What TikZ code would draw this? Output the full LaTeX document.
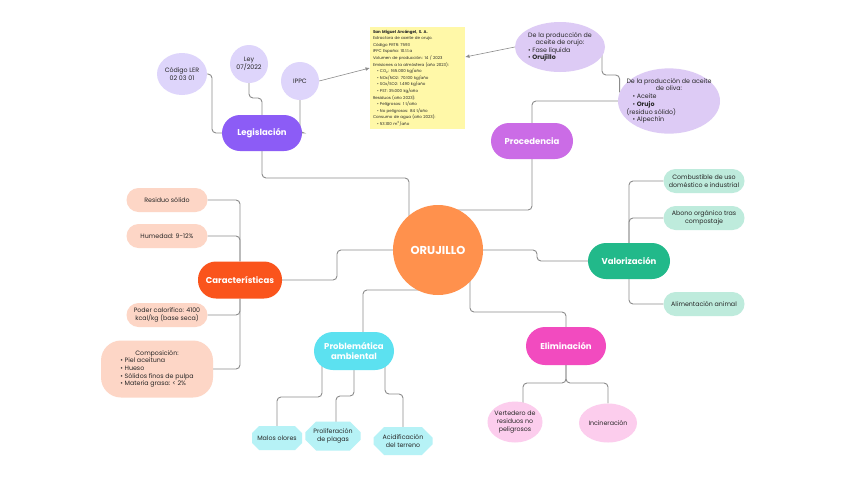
\documentclass[tikz,border=0pt]{standalone}
\usepackage{fontspec}
\setmainfont{Poppins}
\usepackage{tikz}
\usetikzlibrary{arrows.meta,positioning,shapes.geometric,shapes.misc,backgrounds}
\usepackage{xcolor}
\definecolor{orujocol}{HTML}{FF914D}
\definecolor{legiscol}{HTML}{8C5CF6}
\definecolor{legisleaf}{HTML}{DED5FB}
\definecolor{procecol}{HTML}{CB6CE6}
\definecolor{proceleaf}{HTML}{DDCBF5}
\definecolor{caractcol}{HTML}{FA541C}
\definecolor{caractleaf}{HTML}{FDD6C6}
\definecolor{valorcol}{HTML}{22B98A}
\definecolor{valorleaf}{HTML}{BEEBDC}
\definecolor{problemcol}{HTML}{5CE1F0}
\definecolor{problemleaf}{HTML}{B6F2F6}
\definecolor{elimcol}{HTML}{F24BBF}
\definecolor{elimleaf}{HTML}{FCCDED}
\definecolor{notecol}{HTML}{FFF8A8}
\definecolor{linkgray}{HTML}{8C8C8C}
\definecolor{leaftext}{HTML}{262626}
\newcommand{\hd}[1]{\multicolumn{1}{@{}c@{}}{#1}}
\tikzset{
  topic/.style={
    rounded corners=18pt,
    fill=#1,
    text=white,
    minimum width=80pt,
    minimum height=36pt,
    inner sep=0pt,
    align=center,
    font=\bfseries\fontsize{8.5}{10}\selectfont
  },
  leafbox/.style={
    rounded corners=12pt,
    fill=#1,
    text=leaftext,
    minimum width=81pt,
    minimum height=24pt,
    inner sep=2pt,
    align=center,
    font=\fontsize{6.3}{7.6}\selectfont
  },
  leafoval/.style={
    ellipse,
    fill=#1,
    text=leaftext,
    inner sep=0pt,
    align=center,
    font=\fontsize{6.3}{7.6}\selectfont
  },
  leafhex/.style={
    chamfered rectangle,
    chamfered rectangle xsep=7pt,
    fill=problemleaf,
    text=leaftext,
    inner sep=1pt,
    align=center,
    font=\fontsize{6.3}{7.6}\selectfont
  },
  link/.style={
    draw=linkgray,
    line width=0.9pt,
    rounded corners=4pt
  },
  notelink/.style={
    -{Latex[length=1.5mm,width=1.3mm]},
    draw=linkgray,
    line width=0.6pt
  }
}

\begin{document}
\begin{tikzpicture}[x=1pt,y=-1pt]
\useasboundingbox (0,0) rectangle (848,477);
\node[circle, fill=orujocol, minimum size=90pt, text=white, font=\bfseries\fontsize{11.5}{13}\selectfont] (orujillo) at (438,250) {ORUJILLO};
\node[topic=legiscol] (legis) at (262,133) {Legislación};
\node[topic=procecol, minimum width=82pt] (proced) at (532,141) {Procedencia};
\node[topic=caractcol, minimum width=84pt, minimum height=37pt] (caract) at (240,280) {Características};
\node[topic=valorcol, minimum width=82pt] (valor) at (629,261) {Valorización};
\node[topic=problemcol, minimum height=38pt, rounded corners=19pt] (problem) at (354,351) {Problemática\\ambiental};
\node[topic=elimcol, minimum height=38pt, rounded corners=19pt] (elim) at (566,346) {Eliminación};
\node[leafoval=legisleaf, minimum width=50pt, minimum height=42pt] (ler) at (182,74) {Código LER\\02 03 01};
\node[leafoval=legisleaf, circle, minimum size=38pt] (ley) at (249,64) {Ley\\07/2022};
\node[leafoval=legisleaf, circle, minimum size=38pt] (ippc) at (300,81) {IPPC};
\node[fill=notecol, text width=89pt, inner sep=3pt, align=left, text=leaftext, font=\fontsize{4}{6.6}\selectfont] (note) at (417.5,78) {\textbf{San Miguel Arcángel, S. A.}\\
Extractora de aceite de orujo.\\
Código PRTR: 7593\\
IPPC España: 10.1.1.a\\
Volumen de producción: 14 / 2023\\
Emisiones a la atmósfera (año 2023):\\
\hspace{4pt}\textbullet\ CO\textsubscript{2}: 165.000 kg/año\\
\hspace{4pt}\textbullet\ NOx/NO2: 70.100 kg/año\\
\hspace{4pt}\textbullet\ SOx/SO2: 1.490 kg/año\\
\hspace{4pt}\textbullet\ PST: 35.000 kg/año\\
Residuos (año 2023):\\
\hspace{4pt}\textbullet\ Peligrosos: 1 t/año\\
\hspace{4pt}\textbullet\ No peligrosos: 84 t/año\\
Consumo de agua (año 2023):\\
\hspace{4pt}\textbullet\ 53.100 m\textsuperscript{3}/año};
\node[leafoval=proceleaf, minimum width=90pt, minimum height=50pt, inner xsep=-3pt] (orujo) at (560,47) {\begin{tabular}{@{}l@{}}\hd{De la producción de}\\ \hd{aceite de orujo:}\\ \textbullet\ Fase líquida\\ \textbullet\ \textbf{Orujillo}\end{tabular}};
\node[leafoval=proceleaf, minimum width=102pt, minimum height=62pt, inner xsep=-10pt] (oliva) at (669,101) {\begin{tabular}{@{}l@{}}\hd{De la producción de aceite}\\ \hd{de oliva:}\\ \hspace{6pt}\textbullet\ Aceite\\ \hspace{6pt}\textbullet\ \textbf{Orujo}\\ (residuo sólido)\\ \hspace{6pt}\textbullet\ Alpechín\end{tabular}};
\node[leafbox=caractleaf] (resid) at (167,200) {Residuo sólido};
\node[leafbox=caractleaf] (humed) at (167,236) {Humedad: 9-12\%};
\node[leafbox=caractleaf] (poder) at (167,315) {Poder calorífico: 4100\\kcal/kg (base seca)};
\node[leafbox=caractleaf, minimum width=112pt, minimum height=57pt, rounded corners=20pt] (compo) at (157,369) {\begin{tabular}{@{}l@{}}\hd{Composición:}\\ \textbullet\ Piel aceituna\\ \textbullet\ Hueso\\ \textbullet\ Sólidos finos de pulpa\\ \textbullet\ Materia grasa: < 2\%\end{tabular}};
\node[leafbox=valorleaf] (combus) at (704,181) {Combustible de uso\\doméstico e industrial};
\node[leafbox=valorleaf] (abono) at (704,218) {Abono orgánico tras\\compostaje};
\node[leafbox=valorleaf] (alim) at (704,304) {Alimentación animal};
\node[leafhex, minimum width=50pt, minimum height=24pt] (malos) at (277,438) {Malos olores};
\node[leafhex, minimum width=50pt, minimum height=29pt] (prolif) at (333,436) {Proliferación\\de plagas};
\node[leafhex, minimum width=59pt, minimum height=28pt] (acid) at (403,441) {Acidificación\\del terreno};
\node[leafoval=elimleaf, minimum width=55pt, minimum height=41pt, inner sep=-3pt] (vert) at (515,422) {Vertedero de\\residuos no\\peligrosos};
\node[leafoval=elimleaf, minimum width=58pt, minimum height=39pt] (incin) at (608,423) {Incineración};
\begin{scope}[on background layer]
\fill[white] (0,0) rectangle (848,477);
\draw[link] ([xshift=-29pt]orujillo.center) |- (legis |- 0,178) -- (legis);
\draw[link] ([yshift=40pt]orujillo.center) -| (proced);
\draw[link] (orujillo) -- (537,250) |- (valor);
\draw[link] (orujillo) -- (337,250) |- (caract);
\draw[link] ([yshift=-40pt]orujillo.center) -| ([xshift=9pt]problem.center);
\draw[link] ([xshift=32pt]orujillo.center) |- (elim |- 0,312) -- (elim);
\draw[link] (ler) -- (212,74) |- (legis);
\draw[link] (ley) |- (legis |- 0,98) -- (legis);
\draw[link] (ippc) |- (legis);
\draw[link] (proced) |- (oliva);
\draw[link] ([xshift=42pt]orujo.center) |- (oliva.170 |- 0,75) -- (oliva.170);
\draw[link] (resid) -| (caract);
\draw[link] (humed) -| (caract);
\draw[link] (poder) -| (caract);
\draw[link] (compo) -| (caract);
\draw[link] (valor) |- (combus);
\draw[link] (valor) |- (abono);
\draw[link] (valor) |- (alim);
\draw[link] ([xshift=-32pt]problem.center) |- (malos |- 0,397) -- (malos);
\draw[link] (problem) |- ([xshift=3pt]prolif.center |- 0,396) -- ([xshift=3pt]prolif.center);
\draw[link] ([xshift=31pt]problem.center) |- (acid |- 0,394) -- (acid);
\draw[link] (elim) |- ([xshift=8pt]vert.center |- 0,383) -- ([xshift=8pt]vert.center);
\draw[link] (elim) |- (incin |- 0,383) -- (incin);
\end{scope}
\draw[notelink] (ippc.east) -- ([yshift=10pt]note.west);
\draw[notelink] (orujo.west) -- ([yshift=21pt]note.east);
\end{tikzpicture}
\end{document}
